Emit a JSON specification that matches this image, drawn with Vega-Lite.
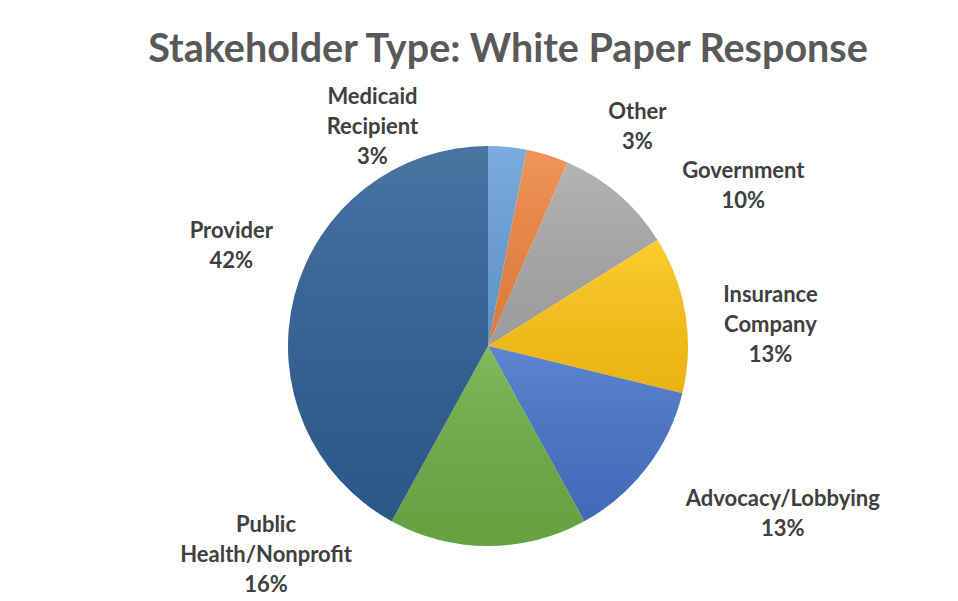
{
  "$schema": "https://vega.github.io/schema/vega-lite/v6.json",
  "autosize": {"type": "none"},
  "width": 400,
  "height": 400,
  "padding": {"left": 288, "top": 146, "right": 270, "bottom": 55},
  "background": "white",
  "title": {
    "text": "Stakeholder Type: White Paper Response",
    "font": "Lato",
    "fontSize": 39.5,
    "fontWeight": "bold",
    "color": "#595959",
    "anchor": "middle",
    "frame": "group",
    "baseline": "bottom",
    "offset": -39,
    "dx": 20
  },
  "data": {
    "values": [
      {"category": "Medicaid Recipient", "order": 1, "value": 3.1, "label": ["Medicaid", "Recipient", "3%"]},
      {"category": "Other", "order": 2, "value": 3.4, "label": ["Other", "3%"]},
      {"category": "Government", "order": 3, "value": 9.6, "label": ["Government", "10%"]},
      {"category": "Insurance Company", "order": 4, "value": 12.7, "label": ["Insurance", "Company", "13%"]},
      {"category": "Advocacy/Lobbying", "order": 5, "value": 13.2, "label": ["Advocacy/Lobbying", "13%"]},
      {"category": "Public Health/Nonprofit", "order": 6, "value": 16.0, "label": ["Public", "Health/Nonprofit", "16%"]},
      {"category": "Provider", "order": 7, "value": 42.0, "label": ["Provider", "42%"]}
    ]
  },
  "encoding": {
    "theta": {"field": "value", "type": "quantitative", "stack": true},
    "order": {"field": "order", "type": "quantitative"}
  },
  "layer": [
    {
      "mark": {"type": "arc", "outerRadius": 200},
      "encoding": {
        "color": {
          "field": "category",
          "type": "nominal",
          "legend": null,
          "scale": {
            "domain": ["Medicaid Recipient", "Other", "Government", "Insurance Company", "Advocacy/Lobbying", "Public Health/Nonprofit", "Provider"],
            "range": ["#67A1DA", "#EF8542", "#A9A9A9", "#FEC414", "#4674C9", "#6EAE44", "#2F5F94"]
          }
        }
      }
    },
    {
      "mark": {
        "type": "arc",
        "outerRadius": 200,
        "fill": {"gradient": "linear", "x1": 0, "y1": 0, "x2": 0, "y2": 1, "stops": [{"offset": 0, "color": "rgba(255,255,255,0.13)"}, {"offset": 1, "color": "rgba(0,0,0,0.08)"}]}
      },
      "encoding": {"detail": {"field": "category", "type": "nominal"}}
    },
    {
      "mark": {"type": "text", "radius": 200, "dx": -135, "dy": -50, "font": "Lato", "fontSize": 22, "fontWeight": "bold", "color": "#404040", "lineHeight": 30, "align": "center", "baseline": "middle"},
      "encoding": {"text": {"condition": {"test": "datum.category === 'Medicaid Recipient'", "field": "label"}, "value": ""}}
    },
    {
      "mark": {"type": "text", "radius": 200, "dx": 90, "dy": -43, "font": "Lato", "fontSize": 22, "fontWeight": "bold", "color": "#404040", "lineHeight": 30, "align": "center", "baseline": "middle"},
      "encoding": {"text": {"condition": {"test": "datum.category === 'Other'", "field": "label"}, "value": ""}}
    },
    {
      "mark": {"type": "text", "radius": 200, "dx": 125, "dy": -23, "font": "Lato", "fontSize": 22, "fontWeight": "bold", "color": "#404040", "lineHeight": 30, "align": "center", "baseline": "middle"},
      "encoding": {"text": {"condition": {"test": "datum.category === 'Government'", "field": "label"}, "value": ""}}
    },
    {
      "mark": {"type": "text", "radius": 200, "dx": 85, "dy": -19, "font": "Lato", "fontSize": 22, "fontWeight": "bold", "color": "#404040", "lineHeight": 30, "align": "center", "baseline": "middle"},
      "encoding": {"text": {"condition": {"test": "datum.category === 'Insurance Company'", "field": "label"}, "value": ""}}
    },
    {
      "mark": {"type": "text", "radius": 200, "dx": 136, "dy": 31, "font": "Lato", "fontSize": 22, "fontWeight": "bold", "color": "#404040", "lineHeight": 30, "align": "center", "baseline": "middle"},
      "encoding": {"text": {"condition": {"test": "datum.category === 'Advocacy/Lobbying'", "field": "label"}, "value": ""}}
    },
    {
      "mark": {"type": "text", "radius": 200, "dx": -222, "dy": -21, "font": "Lato", "fontSize": 22, "fontWeight": "bold", "color": "#404040", "lineHeight": 30, "align": "center", "baseline": "middle"},
      "encoding": {"text": {"condition": {"test": "datum.category === 'Public Health/Nonprofit'", "field": "label"}, "value": ""}}
    },
    {
      "mark": {"type": "text", "radius": 200, "dx": -63, "dy": -65, "font": "Lato", "fontSize": 22, "fontWeight": "bold", "color": "#404040", "lineHeight": 30, "align": "center", "baseline": "middle"},
      "encoding": {"text": {"condition": {"test": "datum.category === 'Provider'", "field": "label"}, "value": ""}}
    }
  ],
  "config": {"view": {"stroke": null}}
}
